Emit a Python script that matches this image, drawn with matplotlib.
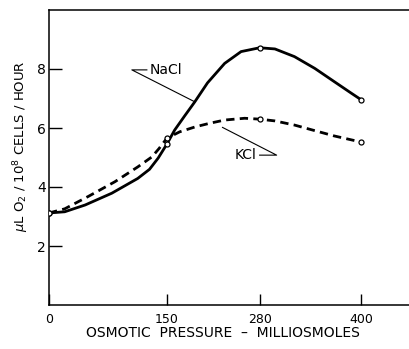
import numpy as np
import matplotlib
matplotlib.use('Agg')
import matplotlib.pyplot as plt

# measured points (osmotic pressure, uL O2 / 1e8 cells / hour)
pts_x = [0, 150, 280, 400]
nacl_pts = [3.12, 5.45, 8.72, 6.95]
kcl_pts = [3.12, 5.65, 6.30, 5.52]

# hand-drawn curves
nacl_x = [0, 20, 46, 80, 113, 128, 139, 150, 161, 175, 189, 207, 231, 254,
          280, 298, 321, 345, 368, 388, 400]
nacl_y = [3.12, 3.16, 3.39, 3.79, 4.29, 4.60, 4.98, 5.45, 5.93, 6.41, 6.88, 7.53,
          8.19, 8.59, 8.72, 8.68, 8.42, 8.02, 7.57, 7.18, 6.95]
kcl_x = [0, 20, 50, 84, 113, 131, 140, 150, 168, 190, 210, 231, 259, 280, 298,
         321, 345, 368, 400]
kcl_y = [3.12, 3.26, 3.68, 4.18, 4.68, 5.02, 5.30, 5.65, 5.87, 6.04, 6.16, 6.27,
         6.33, 6.30, 6.24, 6.10, 5.91, 5.73, 5.52]

xticks = [0, 150, 280, 400]
yticks = [2, 4, 6, 8]

# the original x axis is not evenly spaced: map values -> drawn distance
_vals = [0, 150, 280, 400, 500]
_dist = [0, 118, 211, 313, 398]


def fwd(x):
    return np.interp(x, _vals, _dist)


def inv(d):
    return np.interp(d, _dist, _vals)


plt.rcParams['font.family'] = 'DejaVu Sans'

fig = plt.figure(figsize=(4.10, 3.49), dpi=100)
ax = fig.add_axes([49 / 410, 44 / 349, 360 / 410, 295 / 349])
ax.set_xscale('function', functions=(fwd, inv))

ax.plot(nacl_x, nacl_y, '-', color='black', lw=2.0,
        solid_capstyle='round', solid_joinstyle='round')
ax.plot(kcl_x, kcl_y, '--', color='black', lw=2.0, dashes=(3.0, 1.9))
ax.plot(pts_x, nacl_pts, 'o', ms=3.6, mfc='white', mec='black', mew=0.9, zorder=5)
ax.plot(pts_x, kcl_pts, 'o', ms=3.6, mfc='white', mec='black', mew=0.9, zorder=5)

# leader lines for the labels
ax.plot([189, 105.5, 124.6], [6.89, 7.97, 7.97], color='black', lw=0.8)
ax.text(128, 7.97, 'NaCl', fontsize=10, va='center', ha='left')
ax.plot([228, 300, 280], [6.02, 5.08, 5.08], color='black', lw=0.8)
ax.text(276, 5.08, 'KCl', fontsize=10, va='center', ha='right')

ax.set_xlim(0, 456)
ax.set_ylim(0, 10)
ax.set_xticks(xticks)
ax.set_yticks(yticks)
ax.set_xticklabels([str(v) for v in xticks], fontsize=9)
ax.set_yticklabels([str(v) for v in yticks], fontsize=10)
ax.tick_params(axis='x', direction='in', length=8, width=1, pad=6)
ax.tick_params(axis='y', direction='in', length=9, width=1, pad=2)
ax.spines['right'].set_visible(False)
for s in ['left', 'top', 'bottom']:
    ax.spines[s].set_linewidth(1.1)

ax.set_xlabel('OSMOTIC  PRESSURE  \u2013  MILLIOSMOLES', fontsize=10)
ax.xaxis.set_label_coords(0.482, -0.07)
ax.set_ylabel(r'$\mu$L O$_2$ / 10$^8$ CELLS / HOUR', fontsize=9.5)
ax.yaxis.set_label_coords(-0.05, 0.54)

fig.savefig('out.png', dpi=100)
